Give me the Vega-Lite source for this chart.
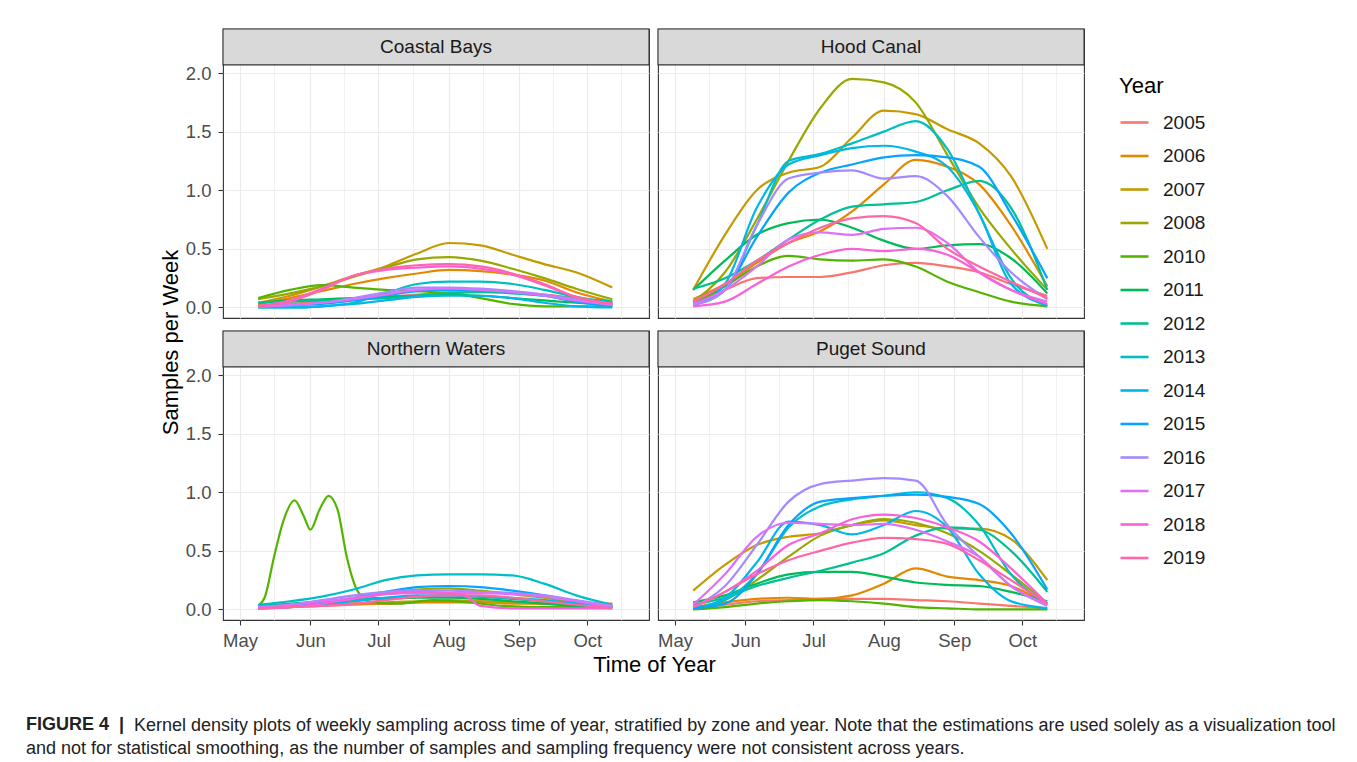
{
"$schema": "https://vega.github.io/schema/vega-lite/v6.json",
"background": "white",
"padding": {"left": 25, "top": 27, "right": 5, "bottom": 0},
"config": {
  "font": "Liberation Sans",
  "view": {"stroke": "#333333", "strokeWidth": 1.1, "fill": "white"},
  "axis": {"gridColor": "#ebebeb", "tickColor": "#333333", "tickSize": 5, "tickWidth": 1.1, "labelColor": "#4d4d4d", "labelFontSize": 18.5, "titleColor": "#000000", "titleFontSize": 22, "titleFontWeight": "normal", "domain": false, "labelOverlap": false, "labelFlush": false}
},
"datasets": {"samples": [
{"zone":"CB","year":"2005","date":"2020-05-09","v":0.02},{"zone":"CB","year":"2005","date":"2020-05-23","v":0.03},{"zone":"CB","year":"2005","date":"2020-06-06","v":0.05},{"zone":"CB","year":"2005","date":"2020-06-20","v":0.07},{"zone":"CB","year":"2005","date":"2020-07-04","v":0.09},{"zone":"CB","year":"2005","date":"2020-07-18","v":0.11},{"zone":"CB","year":"2005","date":"2020-08-01","v":0.13},{"zone":"CB","year":"2005","date":"2020-08-15","v":0.14},{"zone":"CB","year":"2005","date":"2020-08-29","v":0.13},{"zone":"CB","year":"2005","date":"2020-09-12","v":0.11},{"zone":"CB","year":"2005","date":"2020-09-26","v":0.08},{"zone":"CB","year":"2005","date":"2020-10-12","v":0.04},
{"zone":"CB","year":"2006","date":"2020-05-09","v":0.03},{"zone":"CB","year":"2006","date":"2020-05-23","v":0.08},{"zone":"CB","year":"2006","date":"2020-06-06","v":0.14},{"zone":"CB","year":"2006","date":"2020-06-20","v":0.2},{"zone":"CB","year":"2006","date":"2020-07-04","v":0.25},{"zone":"CB","year":"2006","date":"2020-07-18","v":0.29},{"zone":"CB","year":"2006","date":"2020-08-01","v":0.32},{"zone":"CB","year":"2006","date":"2020-08-15","v":0.31},{"zone":"CB","year":"2006","date":"2020-08-29","v":0.28},{"zone":"CB","year":"2006","date":"2020-09-12","v":0.23},{"zone":"CB","year":"2006","date":"2020-09-26","v":0.13},{"zone":"CB","year":"2006","date":"2020-10-12","v":0.05},
{"zone":"CB","year":"2007","date":"2020-05-09","v":0.04},{"zone":"CB","year":"2007","date":"2020-05-23","v":0.1},{"zone":"CB","year":"2007","date":"2020-06-06","v":0.18},{"zone":"CB","year":"2007","date":"2020-06-20","v":0.27},{"zone":"CB","year":"2007","date":"2020-07-04","v":0.35},{"zone":"CB","year":"2007","date":"2020-07-18","v":0.46},{"zone":"CB","year":"2007","date":"2020-08-01","v":0.55},{"zone":"CB","year":"2007","date":"2020-08-15","v":0.53},{"zone":"CB","year":"2007","date":"2020-08-29","v":0.45},{"zone":"CB","year":"2007","date":"2020-09-12","v":0.37},{"zone":"CB","year":"2007","date":"2020-09-26","v":0.3},{"zone":"CB","year":"2007","date":"2020-10-12","v":0.17},
{"zone":"CB","year":"2008","date":"2020-05-09","v":0.07},{"zone":"CB","year":"2008","date":"2020-05-23","v":0.12},{"zone":"CB","year":"2008","date":"2020-06-06","v":0.18},{"zone":"CB","year":"2008","date":"2020-06-20","v":0.26},{"zone":"CB","year":"2008","date":"2020-07-04","v":0.34},{"zone":"CB","year":"2008","date":"2020-07-18","v":0.41},{"zone":"CB","year":"2008","date":"2020-08-01","v":0.43},{"zone":"CB","year":"2008","date":"2020-08-15","v":0.4},{"zone":"CB","year":"2008","date":"2020-08-29","v":0.33},{"zone":"CB","year":"2008","date":"2020-09-12","v":0.25},{"zone":"CB","year":"2008","date":"2020-09-26","v":0.16},{"zone":"CB","year":"2008","date":"2020-10-12","v":0.07},
{"zone":"CB","year":"2010","date":"2020-05-09","v":0.08},{"zone":"CB","year":"2010","date":"2020-05-23","v":0.15},{"zone":"CB","year":"2010","date":"2020-06-06","v":0.19},{"zone":"CB","year":"2010","date":"2020-06-20","v":0.17},{"zone":"CB","year":"2010","date":"2020-07-04","v":0.15},{"zone":"CB","year":"2010","date":"2020-07-18","v":0.14},{"zone":"CB","year":"2010","date":"2020-08-01","v":0.12},{"zone":"CB","year":"2010","date":"2020-08-15","v":0.08},{"zone":"CB","year":"2010","date":"2020-08-29","v":0.03},{"zone":"CB","year":"2010","date":"2020-09-12","v":0.01},{"zone":"CB","year":"2010","date":"2020-09-26","v":0.01},{"zone":"CB","year":"2010","date":"2020-10-12","v":0.01},
{"zone":"CB","year":"2011","date":"2020-05-09","v":0.04},{"zone":"CB","year":"2011","date":"2020-05-23","v":0.06},{"zone":"CB","year":"2011","date":"2020-06-06","v":0.07},{"zone":"CB","year":"2011","date":"2020-06-20","v":0.08},{"zone":"CB","year":"2011","date":"2020-07-04","v":0.09},{"zone":"CB","year":"2011","date":"2020-07-18","v":0.1},{"zone":"CB","year":"2011","date":"2020-08-01","v":0.11},{"zone":"CB","year":"2011","date":"2020-08-15","v":0.1},{"zone":"CB","year":"2011","date":"2020-08-29","v":0.08},{"zone":"CB","year":"2011","date":"2020-09-12","v":0.06},{"zone":"CB","year":"2011","date":"2020-09-26","v":0.04},{"zone":"CB","year":"2011","date":"2020-10-12","v":0.02},
{"zone":"CB","year":"2012","date":"2020-05-09","v":0.04},{"zone":"CB","year":"2012","date":"2020-05-23","v":0.05},{"zone":"CB","year":"2012","date":"2020-06-06","v":0.06},{"zone":"CB","year":"2012","date":"2020-06-20","v":0.07},{"zone":"CB","year":"2012","date":"2020-07-04","v":0.08},{"zone":"CB","year":"2012","date":"2020-07-18","v":0.1},{"zone":"CB","year":"2012","date":"2020-08-01","v":0.12},{"zone":"CB","year":"2012","date":"2020-08-15","v":0.13},{"zone":"CB","year":"2012","date":"2020-08-29","v":0.12},{"zone":"CB","year":"2012","date":"2020-09-12","v":0.1},{"zone":"CB","year":"2012","date":"2020-09-26","v":0.08},{"zone":"CB","year":"2012","date":"2020-10-12","v":0.05},
{"zone":"CB","year":"2013","date":"2020-05-09","v":0.0},{"zone":"CB","year":"2013","date":"2020-05-23","v":0.0},{"zone":"CB","year":"2013","date":"2020-06-06","v":0.01},{"zone":"CB","year":"2013","date":"2020-06-20","v":0.04},{"zone":"CB","year":"2013","date":"2020-07-04","v":0.12},{"zone":"CB","year":"2013","date":"2020-07-18","v":0.2},{"zone":"CB","year":"2013","date":"2020-08-01","v":0.22},{"zone":"CB","year":"2013","date":"2020-08-15","v":0.22},{"zone":"CB","year":"2013","date":"2020-08-29","v":0.2},{"zone":"CB","year":"2013","date":"2020-09-12","v":0.15},{"zone":"CB","year":"2013","date":"2020-09-26","v":0.09},{"zone":"CB","year":"2013","date":"2020-10-12","v":0.04},
{"zone":"CB","year":"2014","date":"2020-05-09","v":0.0},{"zone":"CB","year":"2014","date":"2020-05-23","v":0.0},{"zone":"CB","year":"2014","date":"2020-06-06","v":0.01},{"zone":"CB","year":"2014","date":"2020-06-20","v":0.03},{"zone":"CB","year":"2014","date":"2020-07-04","v":0.06},{"zone":"CB","year":"2014","date":"2020-07-18","v":0.09},{"zone":"CB","year":"2014","date":"2020-08-01","v":0.1},{"zone":"CB","year":"2014","date":"2020-08-15","v":0.1},{"zone":"CB","year":"2014","date":"2020-08-29","v":0.08},{"zone":"CB","year":"2014","date":"2020-09-12","v":0.04},{"zone":"CB","year":"2014","date":"2020-09-26","v":0.01},{"zone":"CB","year":"2014","date":"2020-10-12","v":0.0},
{"zone":"CB","year":"2015","date":"2020-05-09","v":0.01},{"zone":"CB","year":"2015","date":"2020-05-23","v":0.02},{"zone":"CB","year":"2015","date":"2020-06-06","v":0.03},{"zone":"CB","year":"2015","date":"2020-06-20","v":0.06},{"zone":"CB","year":"2015","date":"2020-07-04","v":0.1},{"zone":"CB","year":"2015","date":"2020-07-18","v":0.14},{"zone":"CB","year":"2015","date":"2020-08-01","v":0.15},{"zone":"CB","year":"2015","date":"2020-08-15","v":0.15},{"zone":"CB","year":"2015","date":"2020-08-29","v":0.13},{"zone":"CB","year":"2015","date":"2020-09-12","v":0.1},{"zone":"CB","year":"2015","date":"2020-09-26","v":0.05},{"zone":"CB","year":"2015","date":"2020-10-12","v":0.01},
{"zone":"CB","year":"2016","date":"2020-05-09","v":0.01},{"zone":"CB","year":"2016","date":"2020-05-23","v":0.02},{"zone":"CB","year":"2016","date":"2020-06-06","v":0.04},{"zone":"CB","year":"2016","date":"2020-06-20","v":0.08},{"zone":"CB","year":"2016","date":"2020-07-04","v":0.13},{"zone":"CB","year":"2016","date":"2020-07-18","v":0.17},{"zone":"CB","year":"2016","date":"2020-08-01","v":0.17},{"zone":"CB","year":"2016","date":"2020-08-15","v":0.16},{"zone":"CB","year":"2016","date":"2020-08-29","v":0.14},{"zone":"CB","year":"2016","date":"2020-09-12","v":0.11},{"zone":"CB","year":"2016","date":"2020-09-26","v":0.07},{"zone":"CB","year":"2016","date":"2020-10-12","v":0.03},
{"zone":"CB","year":"2017","date":"2020-05-09","v":0.01},{"zone":"CB","year":"2017","date":"2020-05-23","v":0.02},{"zone":"CB","year":"2017","date":"2020-06-06","v":0.04},{"zone":"CB","year":"2017","date":"2020-06-20","v":0.07},{"zone":"CB","year":"2017","date":"2020-07-04","v":0.11},{"zone":"CB","year":"2017","date":"2020-07-18","v":0.15},{"zone":"CB","year":"2017","date":"2020-08-01","v":0.16},{"zone":"CB","year":"2017","date":"2020-08-15","v":0.15},{"zone":"CB","year":"2017","date":"2020-08-29","v":0.13},{"zone":"CB","year":"2017","date":"2020-09-12","v":0.1},{"zone":"CB","year":"2017","date":"2020-09-26","v":0.06},{"zone":"CB","year":"2017","date":"2020-10-12","v":0.02},
{"zone":"CB","year":"2018","date":"2020-05-09","v":0.01},{"zone":"CB","year":"2018","date":"2020-05-23","v":0.06},{"zone":"CB","year":"2018","date":"2020-06-06","v":0.16},{"zone":"CB","year":"2018","date":"2020-06-20","v":0.27},{"zone":"CB","year":"2018","date":"2020-07-04","v":0.32},{"zone":"CB","year":"2018","date":"2020-07-18","v":0.34},{"zone":"CB","year":"2018","date":"2020-08-01","v":0.35},{"zone":"CB","year":"2018","date":"2020-08-15","v":0.33},{"zone":"CB","year":"2018","date":"2020-08-29","v":0.28},{"zone":"CB","year":"2018","date":"2020-09-12","v":0.19},{"zone":"CB","year":"2018","date":"2020-09-26","v":0.09},{"zone":"CB","year":"2018","date":"2020-10-12","v":0.03},
{"zone":"CB","year":"2019","date":"2020-05-09","v":0.01},{"zone":"CB","year":"2019","date":"2020-05-23","v":0.05},{"zone":"CB","year":"2019","date":"2020-06-06","v":0.15},{"zone":"CB","year":"2019","date":"2020-06-20","v":0.27},{"zone":"CB","year":"2019","date":"2020-07-04","v":0.33},{"zone":"CB","year":"2019","date":"2020-07-18","v":0.36},{"zone":"CB","year":"2019","date":"2020-08-01","v":0.37},{"zone":"CB","year":"2019","date":"2020-08-15","v":0.35},{"zone":"CB","year":"2019","date":"2020-08-29","v":0.29},{"zone":"CB","year":"2019","date":"2020-09-12","v":0.2},{"zone":"CB","year":"2019","date":"2020-09-26","v":0.09},{"zone":"CB","year":"2019","date":"2020-10-12","v":0.03},
{"zone":"HC","year":"2005","date":"2020-05-09","v":0.04},{"zone":"HC","year":"2005","date":"2020-05-23","v":0.15},{"zone":"HC","year":"2005","date":"2020-06-06","v":0.25},{"zone":"HC","year":"2005","date":"2020-06-20","v":0.26},{"zone":"HC","year":"2005","date":"2020-07-04","v":0.26},{"zone":"HC","year":"2005","date":"2020-07-18","v":0.3},{"zone":"HC","year":"2005","date":"2020-08-01","v":0.36},{"zone":"HC","year":"2005","date":"2020-08-15","v":0.38},{"zone":"HC","year":"2005","date":"2020-08-29","v":0.35},{"zone":"HC","year":"2005","date":"2020-09-12","v":0.3},{"zone":"HC","year":"2005","date":"2020-09-26","v":0.2},{"zone":"HC","year":"2005","date":"2020-10-12","v":0.1},
{"zone":"HC","year":"2006","date":"2020-05-09","v":0.07},{"zone":"HC","year":"2006","date":"2020-05-23","v":0.2},{"zone":"HC","year":"2006","date":"2020-06-06","v":0.38},{"zone":"HC","year":"2006","date":"2020-06-20","v":0.55},{"zone":"HC","year":"2006","date":"2020-07-04","v":0.65},{"zone":"HC","year":"2006","date":"2020-07-18","v":0.82},{"zone":"HC","year":"2006","date":"2020-08-01","v":1.05},{"zone":"HC","year":"2006","date":"2020-08-15","v":1.26},{"zone":"HC","year":"2006","date":"2020-08-29","v":1.2},{"zone":"HC","year":"2006","date":"2020-09-12","v":1.05},{"zone":"HC","year":"2006","date":"2020-09-26","v":0.7},{"zone":"HC","year":"2006","date":"2020-10-12","v":0.18},
{"zone":"HC","year":"2007","date":"2020-05-09","v":0.15},{"zone":"HC","year":"2007","date":"2020-05-23","v":0.62},{"zone":"HC","year":"2007","date":"2020-06-06","v":1.0},{"zone":"HC","year":"2007","date":"2020-06-20","v":1.15},{"zone":"HC","year":"2007","date":"2020-07-04","v":1.2},{"zone":"HC","year":"2007","date":"2020-07-18","v":1.45},{"zone":"HC","year":"2007","date":"2020-08-01","v":1.68},{"zone":"HC","year":"2007","date":"2020-08-15","v":1.65},{"zone":"HC","year":"2007","date":"2020-08-29","v":1.52},{"zone":"HC","year":"2007","date":"2020-09-12","v":1.4},{"zone":"HC","year":"2007","date":"2020-09-26","v":1.12},{"zone":"HC","year":"2007","date":"2020-10-12","v":0.5},
{"zone":"HC","year":"2008","date":"2020-05-09","v":0.05},{"zone":"HC","year":"2008","date":"2020-05-23","v":0.3},{"zone":"HC","year":"2008","date":"2020-06-06","v":0.75},{"zone":"HC","year":"2008","date":"2020-06-20","v":1.25},{"zone":"HC","year":"2008","date":"2020-07-04","v":1.7},{"zone":"HC","year":"2008","date":"2020-07-18","v":1.95},{"zone":"HC","year":"2008","date":"2020-08-01","v":1.92},{"zone":"HC","year":"2008","date":"2020-08-15","v":1.75},{"zone":"HC","year":"2008","date":"2020-08-29","v":1.3},{"zone":"HC","year":"2008","date":"2020-09-12","v":0.85},{"zone":"HC","year":"2008","date":"2020-09-26","v":0.5},{"zone":"HC","year":"2008","date":"2020-10-12","v":0.15},
{"zone":"HC","year":"2010","date":"2020-05-09","v":0.03},{"zone":"HC","year":"2010","date":"2020-05-23","v":0.18},{"zone":"HC","year":"2010","date":"2020-06-06","v":0.35},{"zone":"HC","year":"2010","date":"2020-06-20","v":0.44},{"zone":"HC","year":"2010","date":"2020-07-04","v":0.41},{"zone":"HC","year":"2010","date":"2020-07-18","v":0.4},{"zone":"HC","year":"2010","date":"2020-08-01","v":0.41},{"zone":"HC","year":"2010","date":"2020-08-15","v":0.35},{"zone":"HC","year":"2010","date":"2020-08-29","v":0.22},{"zone":"HC","year":"2010","date":"2020-09-12","v":0.13},{"zone":"HC","year":"2010","date":"2020-09-26","v":0.05},{"zone":"HC","year":"2010","date":"2020-10-12","v":0.01},
{"zone":"HC","year":"2011","date":"2020-05-09","v":0.15},{"zone":"HC","year":"2011","date":"2020-05-23","v":0.4},{"zone":"HC","year":"2011","date":"2020-06-06","v":0.62},{"zone":"HC","year":"2011","date":"2020-06-20","v":0.72},{"zone":"HC","year":"2011","date":"2020-07-04","v":0.75},{"zone":"HC","year":"2011","date":"2020-07-18","v":0.68},{"zone":"HC","year":"2011","date":"2020-08-01","v":0.57},{"zone":"HC","year":"2011","date":"2020-08-15","v":0.5},{"zone":"HC","year":"2011","date":"2020-08-29","v":0.53},{"zone":"HC","year":"2011","date":"2020-09-12","v":0.54},{"zone":"HC","year":"2011","date":"2020-09-26","v":0.42},{"zone":"HC","year":"2011","date":"2020-10-12","v":0.12},
{"zone":"HC","year":"2012","date":"2020-05-09","v":0.16},{"zone":"HC","year":"2012","date":"2020-05-23","v":0.25},{"zone":"HC","year":"2012","date":"2020-06-06","v":0.4},{"zone":"HC","year":"2012","date":"2020-06-20","v":0.58},{"zone":"HC","year":"2012","date":"2020-07-04","v":0.75},{"zone":"HC","year":"2012","date":"2020-07-18","v":0.86},{"zone":"HC","year":"2012","date":"2020-08-01","v":0.88},{"zone":"HC","year":"2012","date":"2020-08-15","v":0.9},{"zone":"HC","year":"2012","date":"2020-08-29","v":1.0},{"zone":"HC","year":"2012","date":"2020-09-12","v":1.08},{"zone":"HC","year":"2012","date":"2020-09-26","v":0.85},{"zone":"HC","year":"2012","date":"2020-10-12","v":0.15},
{"zone":"HC","year":"2013","date":"2020-05-09","v":0.03},{"zone":"HC","year":"2013","date":"2020-05-23","v":0.15},{"zone":"HC","year":"2013","date":"2020-06-06","v":0.7},{"zone":"HC","year":"2013","date":"2020-06-20","v":1.25},{"zone":"HC","year":"2013","date":"2020-07-04","v":1.31},{"zone":"HC","year":"2013","date":"2020-07-18","v":1.4},{"zone":"HC","year":"2013","date":"2020-08-01","v":1.5},{"zone":"HC","year":"2013","date":"2020-08-15","v":1.59},{"zone":"HC","year":"2013","date":"2020-08-29","v":1.35},{"zone":"HC","year":"2013","date":"2020-09-12","v":0.8},{"zone":"HC","year":"2013","date":"2020-09-26","v":0.25},{"zone":"HC","year":"2013","date":"2020-10-12","v":0.01},
{"zone":"HC","year":"2014","date":"2020-05-09","v":0.02},{"zone":"HC","year":"2014","date":"2020-05-23","v":0.2},{"zone":"HC","year":"2014","date":"2020-06-06","v":0.85},{"zone":"HC","year":"2014","date":"2020-06-20","v":1.22},{"zone":"HC","year":"2014","date":"2020-07-04","v":1.3},{"zone":"HC","year":"2014","date":"2020-07-18","v":1.36},{"zone":"HC","year":"2014","date":"2020-08-01","v":1.38},{"zone":"HC","year":"2014","date":"2020-08-15","v":1.33},{"zone":"HC","year":"2014","date":"2020-08-29","v":1.2},{"zone":"HC","year":"2014","date":"2020-09-12","v":0.8},{"zone":"HC","year":"2014","date":"2020-09-26","v":0.2},{"zone":"HC","year":"2014","date":"2020-10-12","v":0.02},
{"zone":"HC","year":"2015","date":"2020-05-09","v":0.02},{"zone":"HC","year":"2015","date":"2020-05-23","v":0.15},{"zone":"HC","year":"2015","date":"2020-06-06","v":0.6},{"zone":"HC","year":"2015","date":"2020-06-20","v":0.98},{"zone":"HC","year":"2015","date":"2020-07-04","v":1.15},{"zone":"HC","year":"2015","date":"2020-07-18","v":1.22},{"zone":"HC","year":"2015","date":"2020-08-01","v":1.28},{"zone":"HC","year":"2015","date":"2020-08-15","v":1.3},{"zone":"HC","year":"2015","date":"2020-08-29","v":1.28},{"zone":"HC","year":"2015","date":"2020-09-12","v":1.2},{"zone":"HC","year":"2015","date":"2020-09-26","v":0.8},{"zone":"HC","year":"2015","date":"2020-10-12","v":0.25},
{"zone":"HC","year":"2016","date":"2020-05-09","v":0.02},{"zone":"HC","year":"2016","date":"2020-05-23","v":0.15},{"zone":"HC","year":"2016","date":"2020-06-06","v":0.7},{"zone":"HC","year":"2016","date":"2020-06-20","v":1.1},{"zone":"HC","year":"2016","date":"2020-07-04","v":1.15},{"zone":"HC","year":"2016","date":"2020-07-18","v":1.17},{"zone":"HC","year":"2016","date":"2020-08-01","v":1.1},{"zone":"HC","year":"2016","date":"2020-08-15","v":1.12},{"zone":"HC","year":"2016","date":"2020-08-29","v":0.95},{"zone":"HC","year":"2016","date":"2020-09-12","v":0.6},{"zone":"HC","year":"2016","date":"2020-09-26","v":0.3},{"zone":"HC","year":"2016","date":"2020-10-12","v":0.07},
{"zone":"HC","year":"2017","date":"2020-05-09","v":0.03},{"zone":"HC","year":"2017","date":"2020-05-23","v":0.15},{"zone":"HC","year":"2017","date":"2020-06-06","v":0.35},{"zone":"HC","year":"2017","date":"2020-06-20","v":0.58},{"zone":"HC","year":"2017","date":"2020-07-04","v":0.64},{"zone":"HC","year":"2017","date":"2020-07-18","v":0.62},{"zone":"HC","year":"2017","date":"2020-08-01","v":0.67},{"zone":"HC","year":"2017","date":"2020-08-15","v":0.68},{"zone":"HC","year":"2017","date":"2020-08-29","v":0.55},{"zone":"HC","year":"2017","date":"2020-09-12","v":0.3},{"zone":"HC","year":"2017","date":"2020-09-26","v":0.15},{"zone":"HC","year":"2017","date":"2020-10-12","v":0.05},
{"zone":"HC","year":"2018","date":"2020-05-09","v":0.01},{"zone":"HC","year":"2018","date":"2020-05-23","v":0.05},{"zone":"HC","year":"2018","date":"2020-06-06","v":0.2},{"zone":"HC","year":"2018","date":"2020-06-20","v":0.35},{"zone":"HC","year":"2018","date":"2020-07-04","v":0.45},{"zone":"HC","year":"2018","date":"2020-07-18","v":0.5},{"zone":"HC","year":"2018","date":"2020-08-01","v":0.48},{"zone":"HC","year":"2018","date":"2020-08-15","v":0.5},{"zone":"HC","year":"2018","date":"2020-08-29","v":0.45},{"zone":"HC","year":"2018","date":"2020-09-12","v":0.3},{"zone":"HC","year":"2018","date":"2020-09-26","v":0.15},{"zone":"HC","year":"2018","date":"2020-10-12","v":0.03},
{"zone":"HC","year":"2019","date":"2020-05-09","v":0.05},{"zone":"HC","year":"2019","date":"2020-05-23","v":0.2},{"zone":"HC","year":"2019","date":"2020-06-06","v":0.4},{"zone":"HC","year":"2019","date":"2020-06-20","v":0.55},{"zone":"HC","year":"2019","date":"2020-07-04","v":0.68},{"zone":"HC","year":"2019","date":"2020-07-18","v":0.76},{"zone":"HC","year":"2019","date":"2020-08-01","v":0.78},{"zone":"HC","year":"2019","date":"2020-08-15","v":0.72},{"zone":"HC","year":"2019","date":"2020-08-29","v":0.5},{"zone":"HC","year":"2019","date":"2020-09-12","v":0.35},{"zone":"HC","year":"2019","date":"2020-09-26","v":0.22},{"zone":"HC","year":"2019","date":"2020-10-12","v":0.08},
{"zone":"NW","year":"2005","date":"2020-05-09","v":0.01},{"zone":"NW","year":"2005","date":"2020-05-23","v":0.02},{"zone":"NW","year":"2005","date":"2020-06-06","v":0.03},{"zone":"NW","year":"2005","date":"2020-06-20","v":0.04},{"zone":"NW","year":"2005","date":"2020-07-04","v":0.05},{"zone":"NW","year":"2005","date":"2020-07-18","v":0.06},{"zone":"NW","year":"2005","date":"2020-08-01","v":0.07},{"zone":"NW","year":"2005","date":"2020-08-15","v":0.07},{"zone":"NW","year":"2005","date":"2020-08-29","v":0.06},{"zone":"NW","year":"2005","date":"2020-09-12","v":0.05},{"zone":"NW","year":"2005","date":"2020-09-26","v":0.03},{"zone":"NW","year":"2005","date":"2020-10-12","v":0.02},
{"zone":"NW","year":"2006","date":"2020-05-09","v":0.02},{"zone":"NW","year":"2006","date":"2020-05-23","v":0.03},{"zone":"NW","year":"2006","date":"2020-06-06","v":0.04},{"zone":"NW","year":"2006","date":"2020-06-20","v":0.05},{"zone":"NW","year":"2006","date":"2020-07-04","v":0.05},{"zone":"NW","year":"2006","date":"2020-07-18","v":0.06},{"zone":"NW","year":"2006","date":"2020-08-01","v":0.06},{"zone":"NW","year":"2006","date":"2020-08-15","v":0.06},{"zone":"NW","year":"2006","date":"2020-08-29","v":0.05},{"zone":"NW","year":"2006","date":"2020-09-12","v":0.05},{"zone":"NW","year":"2006","date":"2020-09-26","v":0.05},{"zone":"NW","year":"2006","date":"2020-10-12","v":0.05},
{"zone":"NW","year":"2007","date":"2020-05-09","v":0.02},{"zone":"NW","year":"2007","date":"2020-05-23","v":0.03},{"zone":"NW","year":"2007","date":"2020-06-06","v":0.04},{"zone":"NW","year":"2007","date":"2020-06-20","v":0.05},{"zone":"NW","year":"2007","date":"2020-07-04","v":0.06},{"zone":"NW","year":"2007","date":"2020-07-18","v":0.07},{"zone":"NW","year":"2007","date":"2020-08-01","v":0.08},{"zone":"NW","year":"2007","date":"2020-08-15","v":0.07},{"zone":"NW","year":"2007","date":"2020-08-29","v":0.06},{"zone":"NW","year":"2007","date":"2020-09-12","v":0.05},{"zone":"NW","year":"2007","date":"2020-09-26","v":0.04},{"zone":"NW","year":"2007","date":"2020-10-12","v":0.03},
{"zone":"NW","year":"2008","date":"2020-05-09","v":0.01},{"zone":"NW","year":"2008","date":"2020-05-23","v":0.02},{"zone":"NW","year":"2008","date":"2020-06-06","v":0.05},{"zone":"NW","year":"2008","date":"2020-06-20","v":0.09},{"zone":"NW","year":"2008","date":"2020-07-04","v":0.14},{"zone":"NW","year":"2008","date":"2020-07-18","v":0.17},{"zone":"NW","year":"2008","date":"2020-08-01","v":0.18},{"zone":"NW","year":"2008","date":"2020-08-15","v":0.16},{"zone":"NW","year":"2008","date":"2020-08-29","v":0.13},{"zone":"NW","year":"2008","date":"2020-09-12","v":0.1},{"zone":"NW","year":"2008","date":"2020-09-26","v":0.06},{"zone":"NW","year":"2008","date":"2020-10-12","v":0.03},
{"zone":"NW","year":"2010","date":"2020-05-09","v":0.03},{"zone":"NW","year":"2010","date":"2020-05-12","v":0.11},{"zone":"NW","year":"2010","date":"2020-05-16","v":0.45},{"zone":"NW","year":"2010","date":"2020-05-20","v":0.75},{"zone":"NW","year":"2010","date":"2020-05-25","v":0.93},{"zone":"NW","year":"2010","date":"2020-05-29","v":0.8},{"zone":"NW","year":"2010","date":"2020-06-01","v":0.68},{"zone":"NW","year":"2010","date":"2020-06-05","v":0.85},{"zone":"NW","year":"2010","date":"2020-06-09","v":0.97},{"zone":"NW","year":"2010","date":"2020-06-13","v":0.85},{"zone":"NW","year":"2010","date":"2020-06-17","v":0.45},{"zone":"NW","year":"2010","date":"2020-06-22","v":0.15},{"zone":"NW","year":"2010","date":"2020-06-28","v":0.06},{"zone":"NW","year":"2010","date":"2020-07-10","v":0.05},{"zone":"NW","year":"2010","date":"2020-07-25","v":0.08},{"zone":"NW","year":"2010","date":"2020-08-10","v":0.06},{"zone":"NW","year":"2010","date":"2020-08-25","v":0.03},{"zone":"NW","year":"2010","date":"2020-09-12","v":0.02},{"zone":"NW","year":"2010","date":"2020-09-26","v":0.02},{"zone":"NW","year":"2010","date":"2020-10-12","v":0.02},
{"zone":"NW","year":"2011","date":"2020-05-09","v":0.02},{"zone":"NW","year":"2011","date":"2020-05-23","v":0.04},{"zone":"NW","year":"2011","date":"2020-06-06","v":0.06},{"zone":"NW","year":"2011","date":"2020-06-20","v":0.08},{"zone":"NW","year":"2011","date":"2020-07-04","v":0.09},{"zone":"NW","year":"2011","date":"2020-07-18","v":0.1},{"zone":"NW","year":"2011","date":"2020-08-01","v":0.1},{"zone":"NW","year":"2011","date":"2020-08-15","v":0.09},{"zone":"NW","year":"2011","date":"2020-08-29","v":0.07},{"zone":"NW","year":"2011","date":"2020-09-12","v":0.05},{"zone":"NW","year":"2011","date":"2020-09-26","v":0.03},{"zone":"NW","year":"2011","date":"2020-10-12","v":0.02},
{"zone":"NW","year":"2012","date":"2020-05-09","v":0.03},{"zone":"NW","year":"2012","date":"2020-05-23","v":0.05},{"zone":"NW","year":"2012","date":"2020-06-06","v":0.07},{"zone":"NW","year":"2012","date":"2020-06-20","v":0.09},{"zone":"NW","year":"2012","date":"2020-07-04","v":0.1},{"zone":"NW","year":"2012","date":"2020-07-18","v":0.11},{"zone":"NW","year":"2012","date":"2020-08-01","v":0.12},{"zone":"NW","year":"2012","date":"2020-08-15","v":0.11},{"zone":"NW","year":"2012","date":"2020-08-29","v":0.09},{"zone":"NW","year":"2012","date":"2020-09-12","v":0.07},{"zone":"NW","year":"2012","date":"2020-09-26","v":0.05},{"zone":"NW","year":"2012","date":"2020-10-12","v":0.03},
{"zone":"NW","year":"2013","date":"2020-05-09","v":0.04},{"zone":"NW","year":"2013","date":"2020-05-23","v":0.07},{"zone":"NW","year":"2013","date":"2020-06-06","v":0.11},{"zone":"NW","year":"2013","date":"2020-06-20","v":0.17},{"zone":"NW","year":"2013","date":"2020-07-04","v":0.25},{"zone":"NW","year":"2013","date":"2020-07-18","v":0.29},{"zone":"NW","year":"2013","date":"2020-08-01","v":0.3},{"zone":"NW","year":"2013","date":"2020-08-15","v":0.3},{"zone":"NW","year":"2013","date":"2020-08-29","v":0.29},{"zone":"NW","year":"2013","date":"2020-09-12","v":0.22},{"zone":"NW","year":"2013","date":"2020-09-26","v":0.12},{"zone":"NW","year":"2013","date":"2020-10-12","v":0.04},
{"zone":"NW","year":"2014","date":"2020-05-09","v":0.01},{"zone":"NW","year":"2014","date":"2020-05-23","v":0.02},{"zone":"NW","year":"2014","date":"2020-06-06","v":0.04},{"zone":"NW","year":"2014","date":"2020-06-20","v":0.07},{"zone":"NW","year":"2014","date":"2020-07-04","v":0.1},{"zone":"NW","year":"2014","date":"2020-07-18","v":0.12},{"zone":"NW","year":"2014","date":"2020-08-01","v":0.12},{"zone":"NW","year":"2014","date":"2020-08-15","v":0.11},{"zone":"NW","year":"2014","date":"2020-08-29","v":0.1},{"zone":"NW","year":"2014","date":"2020-09-12","v":0.08},{"zone":"NW","year":"2014","date":"2020-09-26","v":0.05},{"zone":"NW","year":"2014","date":"2020-10-12","v":0.02},
{"zone":"NW","year":"2015","date":"2020-05-09","v":0.01},{"zone":"NW","year":"2015","date":"2020-05-23","v":0.03},{"zone":"NW","year":"2015","date":"2020-06-06","v":0.06},{"zone":"NW","year":"2015","date":"2020-06-20","v":0.1},{"zone":"NW","year":"2015","date":"2020-07-04","v":0.15},{"zone":"NW","year":"2015","date":"2020-07-18","v":0.19},{"zone":"NW","year":"2015","date":"2020-08-01","v":0.2},{"zone":"NW","year":"2015","date":"2020-08-15","v":0.19},{"zone":"NW","year":"2015","date":"2020-08-29","v":0.16},{"zone":"NW","year":"2015","date":"2020-09-12","v":0.12},{"zone":"NW","year":"2015","date":"2020-09-26","v":0.07},{"zone":"NW","year":"2015","date":"2020-10-12","v":0.02},
{"zone":"NW","year":"2016","date":"2020-05-09","v":0.02},{"zone":"NW","year":"2016","date":"2020-05-23","v":0.04},{"zone":"NW","year":"2016","date":"2020-06-06","v":0.08},{"zone":"NW","year":"2016","date":"2020-06-20","v":0.12},{"zone":"NW","year":"2016","date":"2020-07-04","v":0.15},{"zone":"NW","year":"2016","date":"2020-07-18","v":0.16},{"zone":"NW","year":"2016","date":"2020-08-01","v":0.16},{"zone":"NW","year":"2016","date":"2020-08-15","v":0.15},{"zone":"NW","year":"2016","date":"2020-08-29","v":0.14},{"zone":"NW","year":"2016","date":"2020-09-12","v":0.12},{"zone":"NW","year":"2016","date":"2020-09-26","v":0.08},{"zone":"NW","year":"2016","date":"2020-10-12","v":0.03},
{"zone":"NW","year":"2017","date":"2020-05-09","v":0.02},{"zone":"NW","year":"2017","date":"2020-05-23","v":0.04},{"zone":"NW","year":"2017","date":"2020-06-06","v":0.07},{"zone":"NW","year":"2017","date":"2020-06-20","v":0.1},{"zone":"NW","year":"2017","date":"2020-07-04","v":0.13},{"zone":"NW","year":"2017","date":"2020-07-18","v":0.14},{"zone":"NW","year":"2017","date":"2020-08-01","v":0.14},{"zone":"NW","year":"2017","date":"2020-08-15","v":0.14},{"zone":"NW","year":"2017","date":"2020-08-29","v":0.13},{"zone":"NW","year":"2017","date":"2020-09-12","v":0.11},{"zone":"NW","year":"2017","date":"2020-09-26","v":0.07},{"zone":"NW","year":"2017","date":"2020-10-12","v":0.02},
{"zone":"NW","year":"2018","date":"2020-05-09","v":0.01},{"zone":"NW","year":"2018","date":"2020-05-23","v":0.02},{"zone":"NW","year":"2018","date":"2020-06-06","v":0.05},{"zone":"NW","year":"2018","date":"2020-06-20","v":0.09},{"zone":"NW","year":"2018","date":"2020-07-04","v":0.13},{"zone":"NW","year":"2018","date":"2020-07-18","v":0.15},{"zone":"NW","year":"2018","date":"2020-08-01","v":0.14},{"zone":"NW","year":"2018","date":"2020-08-08","v":0.12},{"zone":"NW","year":"2018","date":"2020-08-15","v":0.03},{"zone":"NW","year":"2018","date":"2020-08-29","v":0.01},{"zone":"NW","year":"2018","date":"2020-09-12","v":0.01},{"zone":"NW","year":"2018","date":"2020-09-26","v":0.01},{"zone":"NW","year":"2018","date":"2020-10-12","v":0.01},
{"zone":"NW","year":"2019","date":"2020-05-09","v":0.01},{"zone":"NW","year":"2019","date":"2020-05-23","v":0.02},{"zone":"NW","year":"2019","date":"2020-06-06","v":0.03},{"zone":"NW","year":"2019","date":"2020-06-20","v":0.05},{"zone":"NW","year":"2019","date":"2020-07-04","v":0.08},{"zone":"NW","year":"2019","date":"2020-07-18","v":0.11},{"zone":"NW","year":"2019","date":"2020-08-01","v":0.12},{"zone":"NW","year":"2019","date":"2020-08-15","v":0.12},{"zone":"NW","year":"2019","date":"2020-08-29","v":0.1},{"zone":"NW","year":"2019","date":"2020-09-12","v":0.07},{"zone":"NW","year":"2019","date":"2020-09-26","v":0.04},{"zone":"NW","year":"2019","date":"2020-10-12","v":0.01},
{"zone":"PS","year":"2005","date":"2020-05-09","v":0.01},{"zone":"PS","year":"2005","date":"2020-05-23","v":0.04},{"zone":"PS","year":"2005","date":"2020-06-06","v":0.07},{"zone":"PS","year":"2005","date":"2020-06-20","v":0.08},{"zone":"PS","year":"2005","date":"2020-07-04","v":0.09},{"zone":"PS","year":"2005","date":"2020-07-18","v":0.09},{"zone":"PS","year":"2005","date":"2020-08-01","v":0.09},{"zone":"PS","year":"2005","date":"2020-08-15","v":0.08},{"zone":"PS","year":"2005","date":"2020-08-29","v":0.07},{"zone":"PS","year":"2005","date":"2020-09-12","v":0.05},{"zone":"PS","year":"2005","date":"2020-09-26","v":0.03},{"zone":"PS","year":"2005","date":"2020-10-12","v":0.01},
{"zone":"PS","year":"2006","date":"2020-05-09","v":0.02},{"zone":"PS","year":"2006","date":"2020-05-23","v":0.06},{"zone":"PS","year":"2006","date":"2020-06-06","v":0.09},{"zone":"PS","year":"2006","date":"2020-06-20","v":0.1},{"zone":"PS","year":"2006","date":"2020-07-04","v":0.09},{"zone":"PS","year":"2006","date":"2020-07-18","v":0.12},{"zone":"PS","year":"2006","date":"2020-08-01","v":0.22},{"zone":"PS","year":"2006","date":"2020-08-15","v":0.35},{"zone":"PS","year":"2006","date":"2020-08-29","v":0.28},{"zone":"PS","year":"2006","date":"2020-09-12","v":0.25},{"zone":"PS","year":"2006","date":"2020-09-26","v":0.2},{"zone":"PS","year":"2006","date":"2020-10-12","v":0.04},
{"zone":"PS","year":"2007","date":"2020-05-09","v":0.16},{"zone":"PS","year":"2007","date":"2020-05-23","v":0.38},{"zone":"PS","year":"2007","date":"2020-06-06","v":0.55},{"zone":"PS","year":"2007","date":"2020-06-20","v":0.62},{"zone":"PS","year":"2007","date":"2020-07-04","v":0.65},{"zone":"PS","year":"2007","date":"2020-07-18","v":0.72},{"zone":"PS","year":"2007","date":"2020-08-01","v":0.76},{"zone":"PS","year":"2007","date":"2020-08-15","v":0.72},{"zone":"PS","year":"2007","date":"2020-08-29","v":0.69},{"zone":"PS","year":"2007","date":"2020-09-12","v":0.69},{"zone":"PS","year":"2007","date":"2020-09-26","v":0.6},{"zone":"PS","year":"2007","date":"2020-10-12","v":0.25},
{"zone":"PS","year":"2008","date":"2020-05-09","v":0.01},{"zone":"PS","year":"2008","date":"2020-05-23","v":0.08},{"zone":"PS","year":"2008","date":"2020-06-06","v":0.25},{"zone":"PS","year":"2008","date":"2020-06-20","v":0.45},{"zone":"PS","year":"2008","date":"2020-07-04","v":0.63},{"zone":"PS","year":"2008","date":"2020-07-18","v":0.72},{"zone":"PS","year":"2008","date":"2020-08-01","v":0.77},{"zone":"PS","year":"2008","date":"2020-08-15","v":0.74},{"zone":"PS","year":"2008","date":"2020-08-29","v":0.65},{"zone":"PS","year":"2008","date":"2020-09-12","v":0.5},{"zone":"PS","year":"2008","date":"2020-09-26","v":0.3},{"zone":"PS","year":"2008","date":"2020-10-12","v":0.05},
{"zone":"PS","year":"2010","date":"2020-05-09","v":0.0},{"zone":"PS","year":"2010","date":"2020-05-23","v":0.02},{"zone":"PS","year":"2010","date":"2020-06-06","v":0.05},{"zone":"PS","year":"2010","date":"2020-06-20","v":0.07},{"zone":"PS","year":"2010","date":"2020-07-04","v":0.08},{"zone":"PS","year":"2010","date":"2020-07-18","v":0.07},{"zone":"PS","year":"2010","date":"2020-08-01","v":0.05},{"zone":"PS","year":"2010","date":"2020-08-15","v":0.02},{"zone":"PS","year":"2010","date":"2020-08-29","v":0.01},{"zone":"PS","year":"2010","date":"2020-09-12","v":0.0},{"zone":"PS","year":"2010","date":"2020-09-26","v":0.0},{"zone":"PS","year":"2010","date":"2020-10-12","v":0.0},
{"zone":"PS","year":"2011","date":"2020-05-09","v":0.06},{"zone":"PS","year":"2011","date":"2020-05-23","v":0.12},{"zone":"PS","year":"2011","date":"2020-06-06","v":0.22},{"zone":"PS","year":"2011","date":"2020-06-20","v":0.3},{"zone":"PS","year":"2011","date":"2020-07-04","v":0.32},{"zone":"PS","year":"2011","date":"2020-07-18","v":0.32},{"zone":"PS","year":"2011","date":"2020-08-01","v":0.28},{"zone":"PS","year":"2011","date":"2020-08-15","v":0.23},{"zone":"PS","year":"2011","date":"2020-08-29","v":0.21},{"zone":"PS","year":"2011","date":"2020-09-12","v":0.2},{"zone":"PS","year":"2011","date":"2020-09-26","v":0.15},{"zone":"PS","year":"2011","date":"2020-10-12","v":0.07},
{"zone":"PS","year":"2012","date":"2020-05-09","v":0.04},{"zone":"PS","year":"2012","date":"2020-05-23","v":0.1},{"zone":"PS","year":"2012","date":"2020-06-06","v":0.2},{"zone":"PS","year":"2012","date":"2020-06-20","v":0.27},{"zone":"PS","year":"2012","date":"2020-07-04","v":0.33},{"zone":"PS","year":"2012","date":"2020-07-18","v":0.4},{"zone":"PS","year":"2012","date":"2020-08-01","v":0.48},{"zone":"PS","year":"2012","date":"2020-08-15","v":0.63},{"zone":"PS","year":"2012","date":"2020-08-29","v":0.7},{"zone":"PS","year":"2012","date":"2020-09-12","v":0.68},{"zone":"PS","year":"2012","date":"2020-09-26","v":0.5},{"zone":"PS","year":"2012","date":"2020-10-12","v":0.15},
{"zone":"PS","year":"2013","date":"2020-05-09","v":0.01},{"zone":"PS","year":"2013","date":"2020-05-23","v":0.08},{"zone":"PS","year":"2013","date":"2020-06-06","v":0.3},{"zone":"PS","year":"2013","date":"2020-06-20","v":0.7},{"zone":"PS","year":"2013","date":"2020-07-04","v":0.88},{"zone":"PS","year":"2013","date":"2020-07-18","v":0.94},{"zone":"PS","year":"2013","date":"2020-08-01","v":0.97},{"zone":"PS","year":"2013","date":"2020-08-15","v":1.0},{"zone":"PS","year":"2013","date":"2020-08-29","v":0.95},{"zone":"PS","year":"2013","date":"2020-09-12","v":0.72},{"zone":"PS","year":"2013","date":"2020-09-26","v":0.3},{"zone":"PS","year":"2013","date":"2020-10-12","v":0.05},
{"zone":"PS","year":"2014","date":"2020-05-09","v":0.01},{"zone":"PS","year":"2014","date":"2020-05-23","v":0.1},{"zone":"PS","year":"2014","date":"2020-06-06","v":0.4},{"zone":"PS","year":"2014","date":"2020-06-20","v":0.75},{"zone":"PS","year":"2014","date":"2020-07-04","v":0.72},{"zone":"PS","year":"2014","date":"2020-07-18","v":0.64},{"zone":"PS","year":"2014","date":"2020-08-01","v":0.72},{"zone":"PS","year":"2014","date":"2020-08-15","v":0.84},{"zone":"PS","year":"2014","date":"2020-08-29","v":0.7},{"zone":"PS","year":"2014","date":"2020-09-12","v":0.3},{"zone":"PS","year":"2014","date":"2020-09-26","v":0.07},{"zone":"PS","year":"2014","date":"2020-10-12","v":0.01},
{"zone":"PS","year":"2015","date":"2020-05-09","v":0.01},{"zone":"PS","year":"2015","date":"2020-05-23","v":0.05},{"zone":"PS","year":"2015","date":"2020-06-06","v":0.3},{"zone":"PS","year":"2015","date":"2020-06-20","v":0.72},{"zone":"PS","year":"2015","date":"2020-07-04","v":0.92},{"zone":"PS","year":"2015","date":"2020-07-18","v":0.95},{"zone":"PS","year":"2015","date":"2020-08-01","v":0.97},{"zone":"PS","year":"2015","date":"2020-08-15","v":0.98},{"zone":"PS","year":"2015","date":"2020-08-29","v":0.96},{"zone":"PS","year":"2015","date":"2020-09-12","v":0.9},{"zone":"PS","year":"2015","date":"2020-09-26","v":0.65},{"zone":"PS","year":"2015","date":"2020-10-12","v":0.17},
{"zone":"PS","year":"2016","date":"2020-05-09","v":0.02},{"zone":"PS","year":"2016","date":"2020-05-23","v":0.2},{"zone":"PS","year":"2016","date":"2020-06-06","v":0.55},{"zone":"PS","year":"2016","date":"2020-06-20","v":0.92},{"zone":"PS","year":"2016","date":"2020-07-04","v":1.07},{"zone":"PS","year":"2016","date":"2020-07-18","v":1.1},{"zone":"PS","year":"2016","date":"2020-08-01","v":1.12},{"zone":"PS","year":"2016","date":"2020-08-15","v":1.1},{"zone":"PS","year":"2016","date":"2020-08-29","v":0.72},{"zone":"PS","year":"2016","date":"2020-09-12","v":0.45},{"zone":"PS","year":"2016","date":"2020-09-26","v":0.2},{"zone":"PS","year":"2016","date":"2020-10-12","v":0.03},
{"zone":"PS","year":"2017","date":"2020-05-09","v":0.04},{"zone":"PS","year":"2017","date":"2020-05-23","v":0.3},{"zone":"PS","year":"2017","date":"2020-06-06","v":0.62},{"zone":"PS","year":"2017","date":"2020-06-20","v":0.74},{"zone":"PS","year":"2017","date":"2020-07-04","v":0.73},{"zone":"PS","year":"2017","date":"2020-07-18","v":0.72},{"zone":"PS","year":"2017","date":"2020-08-01","v":0.73},{"zone":"PS","year":"2017","date":"2020-08-15","v":0.68},{"zone":"PS","year":"2017","date":"2020-08-29","v":0.58},{"zone":"PS","year":"2017","date":"2020-09-12","v":0.45},{"zone":"PS","year":"2017","date":"2020-09-26","v":0.2},{"zone":"PS","year":"2017","date":"2020-10-12","v":0.04},
{"zone":"PS","year":"2018","date":"2020-05-09","v":0.02},{"zone":"PS","year":"2018","date":"2020-05-23","v":0.15},{"zone":"PS","year":"2018","date":"2020-06-06","v":0.33},{"zone":"PS","year":"2018","date":"2020-06-20","v":0.55},{"zone":"PS","year":"2018","date":"2020-07-04","v":0.65},{"zone":"PS","year":"2018","date":"2020-07-18","v":0.77},{"zone":"PS","year":"2018","date":"2020-08-01","v":0.81},{"zone":"PS","year":"2018","date":"2020-08-15","v":0.78},{"zone":"PS","year":"2018","date":"2020-08-29","v":0.7},{"zone":"PS","year":"2018","date":"2020-09-12","v":0.58},{"zone":"PS","year":"2018","date":"2020-09-26","v":0.35},{"zone":"PS","year":"2018","date":"2020-10-12","v":0.05},
{"zone":"PS","year":"2019","date":"2020-05-09","v":0.02},{"zone":"PS","year":"2019","date":"2020-05-23","v":0.15},{"zone":"PS","year":"2019","date":"2020-06-06","v":0.3},{"zone":"PS","year":"2019","date":"2020-06-20","v":0.42},{"zone":"PS","year":"2019","date":"2020-07-04","v":0.5},{"zone":"PS","year":"2019","date":"2020-07-18","v":0.57},{"zone":"PS","year":"2019","date":"2020-08-01","v":0.61},{"zone":"PS","year":"2019","date":"2020-08-15","v":0.6},{"zone":"PS","year":"2019","date":"2020-08-29","v":0.56},{"zone":"PS","year":"2019","date":"2020-09-12","v":0.42},{"zone":"PS","year":"2019","date":"2020-09-26","v":0.25},{"zone":"PS","year":"2019","date":"2020-10-12","v":0.05}
]},
"columns": 2,
"spacing": {"row": 13, "column": 9},
"bounds": "flush",
"concat": [
{
 "width": 426, "height": 289,
 "layer": [
  {"data": {"name": "samples"}, "transform": [{"filter": "datum.zone == 'CB'"}],
   "mark": {"type": "line", "strokeWidth": 2.2, "interpolate": "monotone"},
   "encoding": {
    "x": {"field": "date", "type": "temporal",
      "scale": {"type": "utc", "domain": [{"year":2020,"month":4,"date":23,"hours":12,"utc":true},{"year":2020,"month":10,"date":28,"hours":4,"utc":true}]},
      "axis": {"values": [{"year":2020,"month":5,"date":1,"utc":true},{"year":2020,"month":5,"date":16,"utc":true},{"year":2020,"month":6,"date":1,"utc":true},{"year":2020,"month":6,"date":16,"utc":true},{"year":2020,"month":7,"date":1,"utc":true},{"year":2020,"month":7,"date":16,"utc":true},{"year":2020,"month":8,"date":1,"utc":true},{"year":2020,"month":8,"date":16,"utc":true},{"year":2020,"month":9,"date":1,"utc":true},{"year":2020,"month":9,"date":16,"utc":true},{"year":2020,"month":10,"date":1,"utc":true},{"year":2020,"month":10,"date":16,"utc":true}],
        "labels": false, "ticks": false, "title": null,
        "gridWidth": {"condition": {"test": "utcdate(datum.value) != 1", "value": 0.7}, "value": 1.2}}},
    "y": {"field": "v", "type": "quantitative", "scale": {"domain": [-0.09, 2.376], "nice": false, "zero": false},
      "axis": {"values": [0, 0.25, 0.5, 0.75, 1, 1.25, 1.5, 1.75, 2], "title": "Samples per Week", "titleY": 313, "titlePadding": 3, "labelPadding": 7,
        "labelExpr": "datum.value % 0.5 == 0 ? format(datum.value, '.1f') : ''",
        "tickColor": {"condition": {"test": "datum.value % 0.5 != 0", "value": "transparent"}, "value": "#333333"},
        "gridWidth": {"condition": {"test": "datum.value % 0.5 != 0", "value": 0.7}, "value": 1.2}}},
    "color": {"field": "year", "type": "nominal",
      "scale": {"domain": ["2005","2006","2007","2008","2010","2011","2012","2013","2014","2015","2016","2017","2018","2019"],
                "range": ["#F8766D","#E38900","#C49A00","#99A800","#53B400","#00BC56","#00C094","#00BFC4","#00B6EB","#06A4FF","#A58AFF","#DF70F8","#FB61D7","#FF66A8"]},
      "legend": {"title": "Year", "orient": "none", "legendX": 896, "legendY": 47, "titleFontSize": 22, "titleFontWeight": "normal", "titleColor": "#000000", "titlePadding": 9, "labelFontSize": 19, "labelColor": "#1a1a1a", "symbolType": "stroke", "symbolSize": 784, "symbolStrokeWidth": 2.6, "labelOffset": 13, "rowPadding": 7.5, "padding": 0}}
   }},
  {"data": {"values": [{"zone": "Coastal Bays"}]}, "mark": {"type": "rect", "fill": "#d9d9d9", "stroke": "#333333", "strokeWidth": 1.1},
   "encoding": {"y": {"datum": 2.07, "type": "quantitative"}, "y2": {"datum": 2.376}}},
  {"data": {"values": [{"zone": "Coastal Bays"}]}, "mark": {"type": "text", "fontSize": 19, "color": "#1a1a1a", "baseline": "middle"},
   "encoding": {"y": {"datum": 2.223, "type": "quantitative"}, "text": {"field": "zone"}}}
 ]
},
{
 "width": 426, "height": 289,
 "layer": [
  {"data": {"name": "samples"}, "transform": [{"filter": "datum.zone == 'HC'"}],
   "mark": {"type": "line", "strokeWidth": 2.2, "interpolate": "monotone"},
   "encoding": {
    "x": {"field": "date", "type": "temporal",
      "scale": {"type": "utc", "domain": [{"year":2020,"month":4,"date":23,"hours":12,"utc":true},{"year":2020,"month":10,"date":28,"hours":4,"utc":true}]},
      "axis": {"values": [{"year":2020,"month":5,"date":1,"utc":true},{"year":2020,"month":5,"date":16,"utc":true},{"year":2020,"month":6,"date":1,"utc":true},{"year":2020,"month":6,"date":16,"utc":true},{"year":2020,"month":7,"date":1,"utc":true},{"year":2020,"month":7,"date":16,"utc":true},{"year":2020,"month":8,"date":1,"utc":true},{"year":2020,"month":8,"date":16,"utc":true},{"year":2020,"month":9,"date":1,"utc":true},{"year":2020,"month":9,"date":16,"utc":true},{"year":2020,"month":10,"date":1,"utc":true},{"year":2020,"month":10,"date":16,"utc":true}],
        "labels": false, "ticks": false, "title": null,
        "gridWidth": {"condition": {"test": "utcdate(datum.value) != 1", "value": 0.7}, "value": 1.2}}},
    "y": {"field": "v", "type": "quantitative", "scale": {"domain": [-0.09, 2.376], "nice": false, "zero": false},
      "axis": {"values": [0, 0.25, 0.5, 0.75, 1, 1.25, 1.5, 1.75, 2], "title": null, "labels": false, "ticks": false,
        "gridWidth": {"condition": {"test": "datum.value % 0.5 != 0", "value": 0.7}, "value": 1.2}}},
    "color": {"field": "year", "type": "nominal",
      "scale": {"domain": ["2005","2006","2007","2008","2010","2011","2012","2013","2014","2015","2016","2017","2018","2019"],
                "range": ["#F8766D","#E38900","#C49A00","#99A800","#53B400","#00BC56","#00C094","#00BFC4","#00B6EB","#06A4FF","#A58AFF","#DF70F8","#FB61D7","#FF66A8"]},
      "legend": {"title": "Year", "orient": "none", "legendX": 896, "legendY": 47, "titleFontSize": 22, "titleFontWeight": "normal", "titleColor": "#000000", "titlePadding": 9, "labelFontSize": 19, "labelColor": "#1a1a1a", "symbolType": "stroke", "symbolSize": 784, "symbolStrokeWidth": 2.6, "labelOffset": 13, "rowPadding": 7.5, "padding": 0}}
   }},
  {"data": {"values": [{"zone": "Hood Canal"}]}, "mark": {"type": "rect", "fill": "#d9d9d9", "stroke": "#333333", "strokeWidth": 1.1},
   "encoding": {"y": {"datum": 2.07, "type": "quantitative"}, "y2": {"datum": 2.376}}},
  {"data": {"values": [{"zone": "Hood Canal"}]}, "mark": {"type": "text", "fontSize": 19, "color": "#1a1a1a", "baseline": "middle"},
   "encoding": {"y": {"datum": 2.223, "type": "quantitative"}, "text": {"field": "zone"}}}
 ]
},
{
 "width": 426, "height": 289,
 "title": {"text": "FIGURE 4\u00a0\u00a0|", "subtitle": "and not for statistical smoothing, as the number of samples and sampling frequency were not consistent across years.", "orient": "bottom", "anchor": "start", "frame": "group", "offset": 40, "dx": -197, "fontSize": 18, "fontWeight": "bold", "color": "#222222", "subtitleFontSize": 18, "subtitleColor": "#222222", "subtitlePadding": 6},
 "layer": [
  {"data": {"name": "samples"}, "transform": [{"filter": "datum.zone == 'NW'"}],
   "mark": {"type": "line", "strokeWidth": 2.2, "interpolate": "monotone"},
   "encoding": {
    "x": {"field": "date", "type": "temporal",
      "scale": {"type": "utc", "domain": [{"year":2020,"month":4,"date":23,"hours":12,"utc":true},{"year":2020,"month":10,"date":28,"hours":4,"utc":true}]},
      "axis": {"values": [{"year":2020,"month":5,"date":1,"utc":true},{"year":2020,"month":5,"date":16,"utc":true},{"year":2020,"month":6,"date":1,"utc":true},{"year":2020,"month":6,"date":16,"utc":true},{"year":2020,"month":7,"date":1,"utc":true},{"year":2020,"month":7,"date":16,"utc":true},{"year":2020,"month":8,"date":1,"utc":true},{"year":2020,"month":8,"date":16,"utc":true},{"year":2020,"month":9,"date":1,"utc":true},{"year":2020,"month":9,"date":16,"utc":true},{"year":2020,"month":10,"date":1,"utc":true},{"year":2020,"month":10,"date":16,"utc":true}],
        "title": "Time of Year", "titleX": 431, "titlePadding": 5, "labelPadding": 6,
        "labelExpr": "utcdate(datum.value) == 1 ? utcFormat(datum.value, '%b') : ''",
        "tickColor": {"condition": {"test": "utcdate(datum.value) != 1", "value": "transparent"}, "value": "#333333"},
        "gridWidth": {"condition": {"test": "utcdate(datum.value) != 1", "value": 0.7}, "value": 1.2}}},
    "y": {"field": "v", "type": "quantitative", "scale": {"domain": [-0.09, 2.376], "nice": false, "zero": false},
      "axis": {"values": [0, 0.25, 0.5, 0.75, 1, 1.25, 1.5, 1.75, 2], "title": null, "labelPadding": 7,
        "labelExpr": "datum.value % 0.5 == 0 ? format(datum.value, '.1f') : ''",
        "tickColor": {"condition": {"test": "datum.value % 0.5 != 0", "value": "transparent"}, "value": "#333333"},
        "gridWidth": {"condition": {"test": "datum.value % 0.5 != 0", "value": 0.7}, "value": 1.2}}},
    "color": {"field": "year", "type": "nominal",
      "scale": {"domain": ["2005","2006","2007","2008","2010","2011","2012","2013","2014","2015","2016","2017","2018","2019"],
                "range": ["#F8766D","#E38900","#C49A00","#99A800","#53B400","#00BC56","#00C094","#00BFC4","#00B6EB","#06A4FF","#A58AFF","#DF70F8","#FB61D7","#FF66A8"]},
      "legend": {"title": "Year", "orient": "none", "legendX": 896, "legendY": 47, "titleFontSize": 22, "titleFontWeight": "normal", "titleColor": "#000000", "titlePadding": 9, "labelFontSize": 19, "labelColor": "#1a1a1a", "symbolType": "stroke", "symbolSize": 784, "symbolStrokeWidth": 2.6, "labelOffset": 13, "rowPadding": 7.5, "padding": 0}}
   }},
  {"data": {"values": [{"zone": "Northern Waters"}]}, "mark": {"type": "rect", "fill": "#d9d9d9", "stroke": "#333333", "strokeWidth": 1.1},
   "encoding": {"y": {"datum": 2.07, "type": "quantitative"}, "y2": {"datum": 2.376}}},
  {"data": {"values": [{"zone": "Northern Waters"}]}, "mark": {"type": "text", "fontSize": 19, "color": "#1a1a1a", "baseline": "middle"},
   "encoding": {"y": {"datum": 2.223, "type": "quantitative"}, "text": {"field": "zone"}}}
 ]
},
{
 "width": 426, "height": 289,
 "title": {"text": "Kernel density plots of weekly sampling across time of year, stratified by zone and year. Note that the estimations are used solely as a visualization tool", "orient": "bottom", "anchor": "start", "frame": "group", "offset": 67, "dx": -524, "fontSize": 18, "fontWeight": "normal", "color": "#222222"},
 "layer": [
  {"data": {"name": "samples"}, "transform": [{"filter": "datum.zone == 'PS'"}],
   "mark": {"type": "line", "strokeWidth": 2.2, "interpolate": "monotone"},
   "encoding": {
    "x": {"field": "date", "type": "temporal",
      "scale": {"type": "utc", "domain": [{"year":2020,"month":4,"date":23,"hours":12,"utc":true},{"year":2020,"month":10,"date":28,"hours":4,"utc":true}]},
      "axis": {"values": [{"year":2020,"month":5,"date":1,"utc":true},{"year":2020,"month":5,"date":16,"utc":true},{"year":2020,"month":6,"date":1,"utc":true},{"year":2020,"month":6,"date":16,"utc":true},{"year":2020,"month":7,"date":1,"utc":true},{"year":2020,"month":7,"date":16,"utc":true},{"year":2020,"month":8,"date":1,"utc":true},{"year":2020,"month":8,"date":16,"utc":true},{"year":2020,"month":9,"date":1,"utc":true},{"year":2020,"month":9,"date":16,"utc":true},{"year":2020,"month":10,"date":1,"utc":true},{"year":2020,"month":10,"date":16,"utc":true}],
        "title": null, "labelPadding": 6,
        "labelExpr": "utcdate(datum.value) == 1 ? utcFormat(datum.value, '%b') : ''",
        "tickColor": {"condition": {"test": "utcdate(datum.value) != 1", "value": "transparent"}, "value": "#333333"},
        "gridWidth": {"condition": {"test": "utcdate(datum.value) != 1", "value": 0.7}, "value": 1.2}}},
    "y": {"field": "v", "type": "quantitative", "scale": {"domain": [-0.09, 2.376], "nice": false, "zero": false},
      "axis": {"values": [0, 0.25, 0.5, 0.75, 1, 1.25, 1.5, 1.75, 2], "title": null, "labels": false, "ticks": false,
        "gridWidth": {"condition": {"test": "datum.value % 0.5 != 0", "value": 0.7}, "value": 1.2}}},
    "color": {"field": "year", "type": "nominal",
      "scale": {"domain": ["2005","2006","2007","2008","2010","2011","2012","2013","2014","2015","2016","2017","2018","2019"],
                "range": ["#F8766D","#E38900","#C49A00","#99A800","#53B400","#00BC56","#00C094","#00BFC4","#00B6EB","#06A4FF","#A58AFF","#DF70F8","#FB61D7","#FF66A8"]},
      "legend": {"title": "Year", "orient": "none", "legendX": 896, "legendY": 47, "titleFontSize": 22, "titleFontWeight": "normal", "titleColor": "#000000", "titlePadding": 9, "labelFontSize": 19, "labelColor": "#1a1a1a", "symbolType": "stroke", "symbolSize": 784, "symbolStrokeWidth": 2.6, "labelOffset": 13, "rowPadding": 7.5, "padding": 0}}
   }},
  {"data": {"values": [{"zone": "Puget Sound"}]}, "mark": {"type": "rect", "fill": "#d9d9d9", "stroke": "#333333", "strokeWidth": 1.1},
   "encoding": {"y": {"datum": 2.07, "type": "quantitative"}, "y2": {"datum": 2.376}}},
  {"data": {"values": [{"zone": "Puget Sound"}]}, "mark": {"type": "text", "fontSize": 19, "color": "#1a1a1a", "baseline": "middle"},
   "encoding": {"y": {"datum": 2.223, "type": "quantitative"}, "text": {"field": "zone"}}}
 ]
}
]
}
